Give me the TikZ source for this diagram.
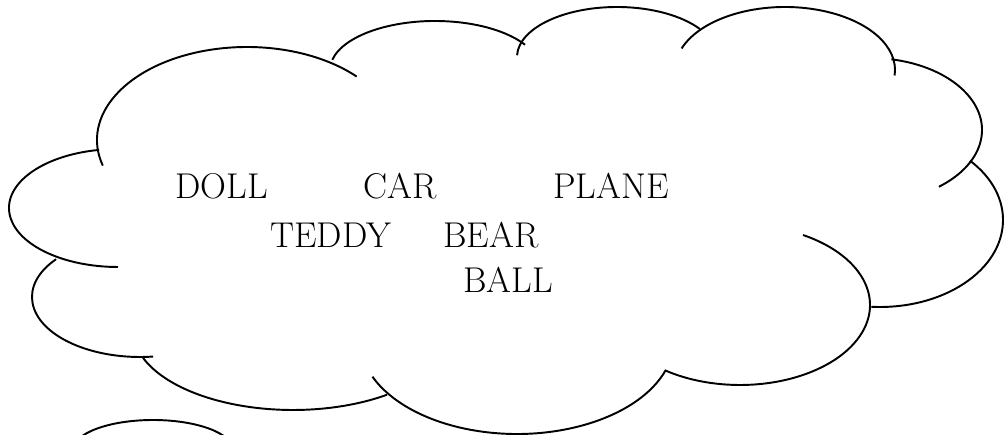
\documentclass[tikz,border=0pt]{standalone}
\usepackage{tikz}
\usetikzlibrary{positioning}

\begin{document}
\begin{tikzpicture}[x=0.02cm, y=0.02cm,
    cloudarc/.style={line width=1.1pt},
    toy/.style={font=\fontsize{20.4}{24}\selectfont, anchor=base west, inner sep=0pt}]
    \clip (0,0) rectangle (1007,435);

    % cloud outline, one elliptic arc per bump
    \draw[cloudarc] (247,295) ++(196:150 and 93) arc[start angle=196, end angle=43, x radius=150, y radius=93];
    \draw[cloudarc] (435,365) ++(168:105 and 49) arc[start angle=168, end angle=31, x radius=105, y radius=49];
    \draw[cloudarc] (617,378) ++(178:100 and 50) arc[start angle=178, end angle=34, x radius=100, y radius=50];
    \draw[cloudarc] (785,365) ++(160:110 and 63) arc[start angle=160, end angle=-5, x radius=110, y radius=63];
    \draw[cloudarc] (870,305) ++(79:112 and 72) arc[start angle=79, end angle=-52, x radius=112, y radius=72];
    \draw[cloudarc] (880,215) ++(43:123 and 87) arc[start angle=43, end angle=-94, x radius=123, y radius=87];
    \draw[cloudarc] (740,130) ++(61:130 and 80) arc[start angle=61, end angle=-125, x radius=130, y radius=80];
    \draw[cloudarc] (517,95) ++(-18.5:157 and 94) arc[start angle=-18.5, end angle=-157, x radius=157, y radius=94];
    \draw[cloudarc] (293,105) ++(-54:160 and 80) arc[start angle=-54, end angle=-160, x radius=160, y radius=80];
    \draw[cloudarc] (140,138) ++(141:108 and 60) arc[start angle=141, end angle=277, x radius=108, y radius=60];
    \draw[cloudarc] (118,227) ++(100:109 and 59) arc[start angle=100, end angle=270, x radius=109, y radius=59];

    % first bubble of the tail
    \draw[cloudarc] (153,-15) ellipse [x radius=80, y radius=30];

    % toys
    \node[toy] (doll) at (175,236) {DOLL};
    \node[toy] (car) at (363,236) {CAR};
    \node[toy] (plane) at (553,236) {PLANE};
    \node[toy] (teddy) at (270,187) {TEDDY};
    \node[toy] (bear) at (443,187) {BEAR};
    \node[toy] (ball) at (463,142) {BALL};
\end{tikzpicture}
\end{document}
